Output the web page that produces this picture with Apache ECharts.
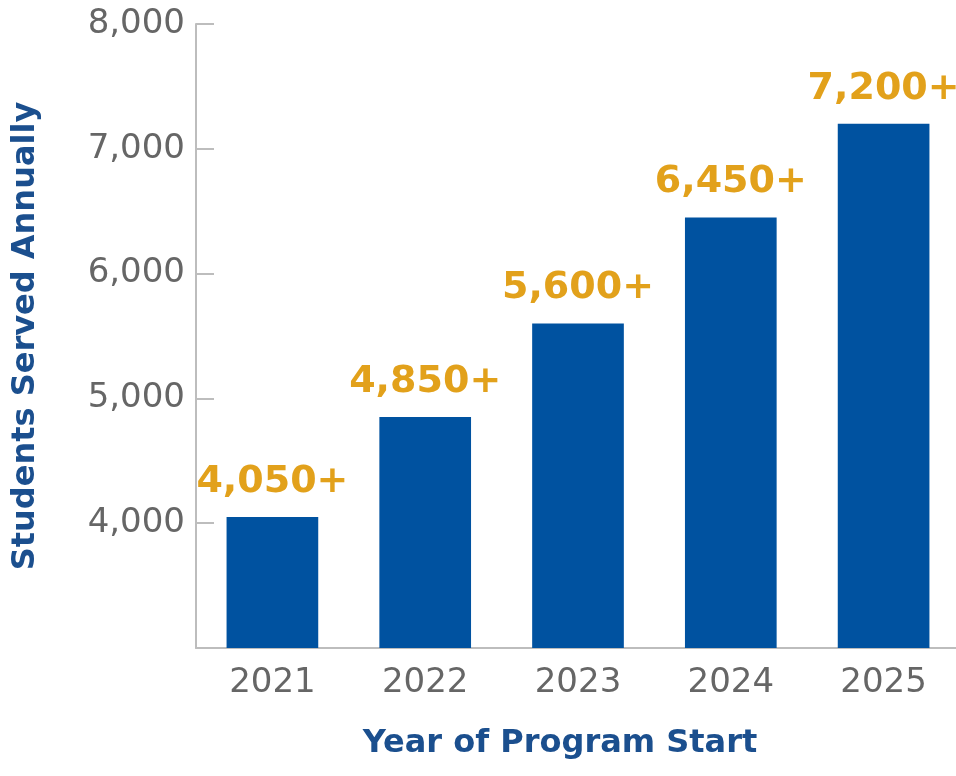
<!DOCTYPE html>
<html>
<head>
<meta charset="utf-8">
<script src="https://cdn.jsdelivr.net/npm/echarts@6/dist/echarts.min.js"></script>
<style>
  html, body { margin: 0; padding: 0; background: #fff; }
  #chart { width: 956px; height: 776px; }
</style>
</head>
<body>
<div id="chart"></div>
<script>
// Students served per program start year
const years = ['2021', '2022', '2023', '2024', '2025'];
const students = [4050, 4850, 5600, 6450, 7200];
const labelTexts = ['4,050+', '4,850+', '5,600+', '6,450+', '7,200+'];
const yTicks = [3000, 4000, 5000, 6000, 7000, 8000];

const BLUE = '#0052A0';
const GOLD = '#E2A11B';
const NAVY = '#1B4F8E';
const GREY = '#666666';
const FONT = '"DejaVu Sans", "Noto Sans", sans-serif';

const chart = echarts.init(document.getElementById('chart'));
chart.setOption({
  animation: false,
  backgroundColor: '#fff',
  grid: { left: 196, top: 24, width: 764, bottom: 128, containLabel: false, outerBoundsMode: 'none' },
  xAxis: {
    type: 'category',
    data: years,
    name: 'Year of Program Start',
    nameLocation: 'middle',
    nameGap: 80,
    nameTextStyle: { color: NAVY, fontSize: 32, fontWeight: 700, fontFamily: FONT, padding: [0, 36, 0, 0] },
    axisLine: { lineStyle: { color: '#bdbdbd', width: 2 } },
    axisTick: { show: false },
    axisLabel: { color: GREY, fontSize: 34, fontFamily: FONT, fontWeight: 400, margin: 18 }
  },
  yAxis: {
    type: 'value',
    min: yTicks[0],
    max: yTicks[yTicks.length - 1],
    interval: 1000,
    name: 'Students Served Annually',
    nameLocation: 'middle',
    nameRotate: 90,
    nameGap: 154,
    nameTextStyle: { color: NAVY, fontSize: 32, fontWeight: 700, fontFamily: FONT },
    splitLine: { show: false },
    axisLine: { show: true, lineStyle: { color: '#bdbdbd', width: 2 } },
    axisTick: { show: true, inside: true, length: 18, lineStyle: { color: '#bdbdbd', width: 2 } },
    axisLabel: {
      color: GREY, fontSize: 34, fontFamily: FONT, fontWeight: 400, margin: 11,
      formatter: v => (v === yTicks[0] ? '' : v.toLocaleString('en-US'))
    }
  },
  series: [{
    type: 'bar',
    data: students,
    barWidth: '60%',
    itemStyle: { color: BLUE },
    label: {
      show: true,
      position: 'top',
      distance: 16,
      color: GOLD,
      fontSize: 38,
      fontWeight: 700,
      fontFamily: FONT,
      formatter: p => labelTexts[p.dataIndex]
    }
  }]
});
</script>
</body>
</html>
